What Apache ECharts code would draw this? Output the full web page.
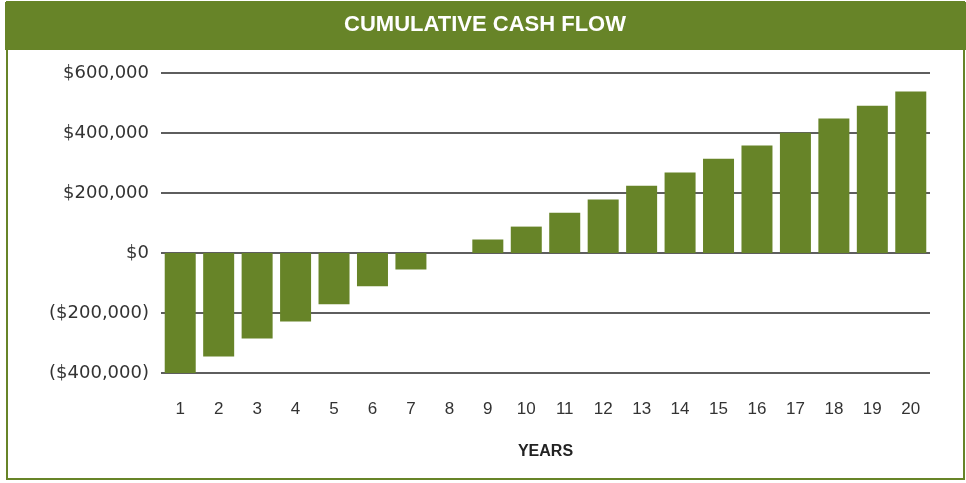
<!DOCTYPE html>
<html>
<head>
<meta charset="utf-8">
<script src="https://cdn.jsdelivr.net/npm/echarts@6/dist/echarts.min.js"></script>
<style>
html,body{margin:0;padding:0;background:#fff;}
#chart{width:966px;height:483px;}
</style>
</head>
<body>
<div id="chart"></div>
<script>
const titleText = 'CUMULATIVE CASH FLOW';
const axisTitle = 'YEARS';
const years = ['1','2','3','4','5','6','7','8','9','10','11','12','13','14','15','16','17','18','19','20'];
const cumulativeCashFlow = [-400000,-345000,-285000,-228000,-171000,-111000,-55000,0,45000,88000,134000,178000,224000,268000,314000,358000,401000,448000,491000,538000];
const yTicks = { min: -400000, max: 600000, interval: 200000 };

const green = '#678428';
function fmt(v){
  const s = '$' + Math.abs(v).toLocaleString('en-US');
  return v < 0 ? '(' + s + ')' : s;
}

const chart = echarts.init(document.getElementById('chart'), null, {renderer:'canvas'});
chart.setOption({
  animation: false,
  backgroundColor: '#fff',
  grid: { left: 161, right: 36, top: 73, bottom: 110, containLabel: false },
  xAxis: {
    type: 'category',
    data: years,
    axisLine: { show: false, onZero: false },
    axisTick: { show: false },
    axisLabel: { margin: 28, fontSize: 17, color: '#333', fontFamily: 'Liberation Sans, Arial, sans-serif' },
    name: axisTitle,
    nameLocation: 'middle',
    nameGap: 71,
    nameTextStyle: { fontSize: 16, fontWeight: 'bold', color: '#222', fontFamily: 'Liberation Sans Narrow, Arial Narrow, Liberation Sans, sans-serif' }
  },
  yAxis: {
    type: 'value',
    min: yTicks.min, max: yTicks.max, interval: yTicks.interval,
    axisLine: { show: false },
    axisTick: { show: false },
    axisLabel: { margin: 12, fontSize: 18, color: '#333', fontFamily: 'DejaVu Sans, sans-serif', formatter: fmt },
    splitLine: { lineStyle: { color: '#5e5e5e', width: 2 } }
  },
  series: [{
    type: 'bar',
    data: cumulativeCashFlow,
    barWidth: 31,
    itemStyle: { color: green },
    z: 3
  }],
  graphic: [
    { type: 'rect', z: -1, shape: { x: 7, y: 2, width: 957, height: 477 }, style: { fill: 'none', stroke: green, lineWidth: 2 } },
    { type: 'rect', z: 10, shape: { x: 5, y: 2, width: 961, height: 48 }, style: { fill: green } },
    { type: 'text', z: 11, x: 485, y: 25, style: { text: titleText, fill: '#fff', fontSize: 22, fontWeight: 'bold', fontFamily: 'Liberation Sans Narrow, Arial Narrow, Liberation Sans, sans-serif', align: 'center', verticalAlign: 'middle' } }
  ]
});
</script>
</body>
</html>
